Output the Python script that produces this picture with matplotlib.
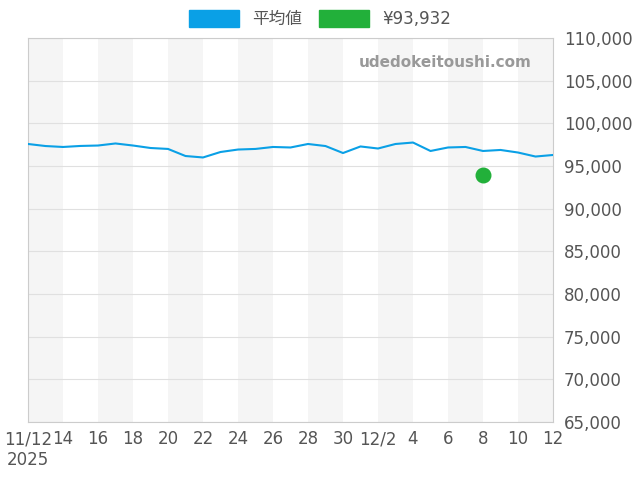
import matplotlib
matplotlib.use("Agg")
import matplotlib.pyplot as plt
from matplotlib.patches import Patch

plt.rcParams['font.family'] = ['DejaVu Sans', 'Noto Sans CJK JP']

days = list(range(31))  # 0 = 2025-11-12
avg = [97580, 97340, 97230, 97350, 97400, 97640, 97400, 97110, 97000, 96170,
       96000, 96640, 96930, 97000, 97230, 97170, 97580, 97340, 96520, 97290,
       97050, 97580, 97750, 96760, 97170, 97230, 96760, 96880, 96580, 96110, 96290]
point_day = 26
point_val = 93932
tick_pos = [0, 2, 4, 6, 8, 10, 12, 14, 16, 18, 20, 22, 24, 26, 28, 30]
tick_labels = ["11/12\n2025", "14", "16", "18", "20", "22", "24", "26", "28", "30",
               "12/2", "4", "6", "8", "10", "12"]
yticks = list(range(65000, 110001, 5000))

fig = plt.figure(figsize=(6.4, 4.8), dpi=100)
ax = fig.add_axes([28/640, 1-422/480, 525/640, 384/480])
for s in range(0, 30, 4):
    ax.axvspan(s, s+2, color='#f5f5f5', lw=0, zorder=0)
ax.plot(days, avg, color='#0aa0e6', lw=1.5, zorder=3)
ax.scatter([point_day], [point_val], s=110, color='#22b03a', zorder=4)
ax.set_xlim(0, 30)
ax.set_ylim(65000, 110000)
ax.set_yticks(yticks)
ax.set_yticklabels([f"{v:,}" for v in yticks])
ax.yaxis.tick_right()
ax.set_xticks(tick_pos)
ax.set_xticklabels(tick_labels)
ax.grid(axis='y', color='#e0e0e0', lw=0.8)
ax.tick_params(length=0, labelsize=12, colors='#555555', pad=6)
ax.tick_params(axis='y', pad=8)
for sp in ax.spines.values():
    sp.set_color('#cccccc')
ax.text(0.96, 0.935, "udedokeitoushi.com", transform=ax.transAxes, ha='right', va='center',
        fontsize=11, fontweight='bold', color='#999999')
handles = [Patch(color='#0aa0e6', label='平均値'), Patch(color='#22b03a', label='¥93,932')]
fig.legend(handles=handles, loc='upper center', bbox_to_anchor=(0.5, 1.01), ncol=2, frameon=False,
           fontsize=12, handlelength=3, handleheight=1.2, labelcolor='#555555', columnspacing=1)
fig.savefig("out.png")
